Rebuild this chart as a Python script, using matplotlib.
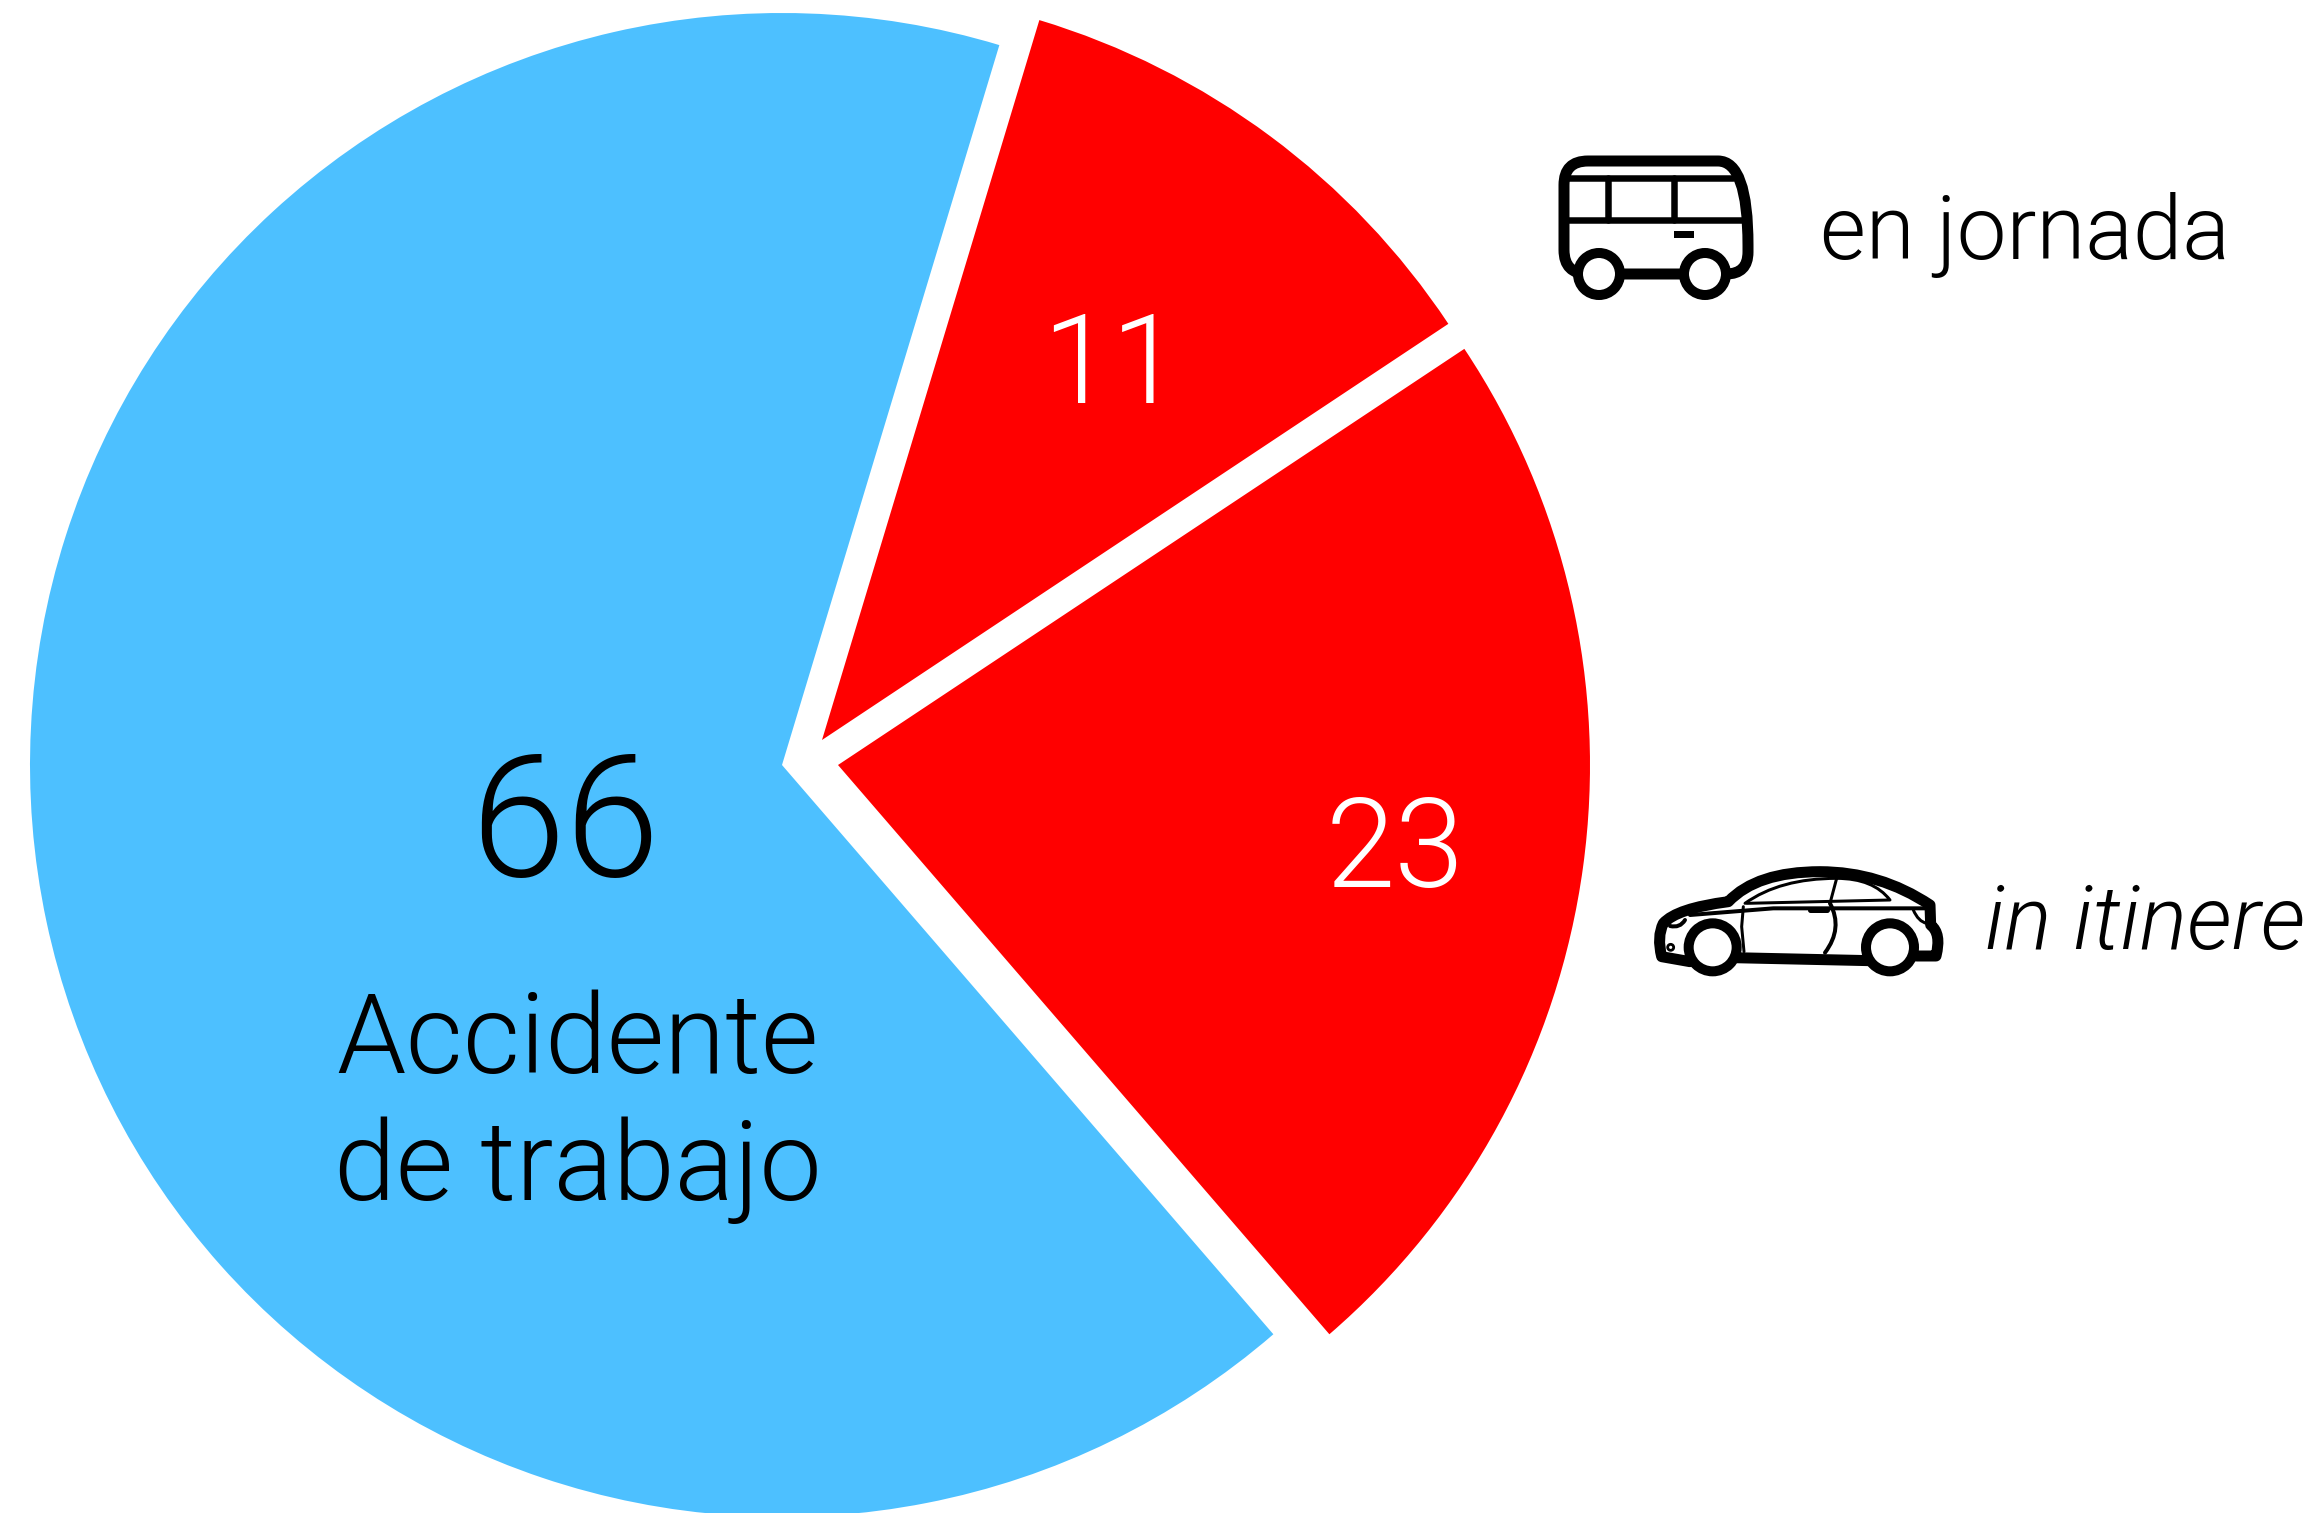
import matplotlib
matplotlib.use('Agg')
import matplotlib.pyplot as plt
from matplotlib.patches import Circle, PathPatch, Rectangle
from matplotlib.path import Path

# Values
categories = ['Accidente de trabajo', 'in itinere', 'en jornada']
values = [66, 23, 11]
colors = ['#4DC0FF', '#FF0000', '#FF0000']

WIDTH, HEIGHT = 2321, 1513
plt.rcParams['font.family'] = ['Roboto', 'Liberation Sans', 'DejaVu Sans']
WEIGHT = 300

fig = plt.figure(figsize=(WIDTH / 100, HEIGHT / 100), dpi=100)
ax = fig.add_axes([0, 0, 1, 1])

radius = 752
center = (782, HEIGHT - 765)

wedges, _ = ax.pie(values, colors=colors, radius=radius, center=center,
                   startangle=73.2, counterclock=True, frame=True)
# the two red slices are pulled out by hand
wedges[1].set_center((838, HEIGHT - 765))
wedges[2].set_center((822, HEIGHT - 740))

ax.set_xlim(0, WIDTH)
ax.set_ylim(0, HEIGHT)
ax.axis('off')


def to_px(x, y):
    return x, HEIGHT - y


def draw_line(pts, lw):
    # pts: list of (x, y) or bezier pairs, image pixel coordinates
    verts = [to_px(*pts[0])]
    codes = [Path.MOVETO]
    for p in pts[1:]:
        if len(p) == 4:
            verts += [to_px(p[0], p[1]), to_px(p[2], p[3])]
            codes += [Path.CURVE3, Path.CURVE3]
        else:
            verts.append(to_px(*p))
            codes.append(Path.LINETO)
    ax.add_patch(PathPatch(Path(verts, codes), fill=False, ec='black', lw=lw * 0.72,
                           capstyle='round', joinstyle='round', zorder=5))


def draw_wheel(x, y, r, lw):
    ax.add_patch(Circle(to_px(x, y), r, fc='white', ec='black', lw=lw * 0.72, zorder=6))


def draw_bus():
    draw_line([(1588, 274), (1564, 274, 1564, 250), (1564, 185), (1564, 161, 1588, 161),
               (1718, 161), (1748, 161, 1748, 245), (1748, 252), (1748, 274, 1726, 274),
               (1600, 274)], 11)
    draw_line([(1564, 178), (1733, 178)], 6.5)
    draw_line([(1564, 220), (1746, 220)], 6.5)
    draw_line([(1608, 178), (1608, 220)], 6.5)
    draw_line([(1674, 178), (1674, 220)], 6.5)
    ax.add_patch(Rectangle(to_px(1674, 238), 20, 7, fc='black', ec='none', zorder=5))
    draw_wheel(1599, 274, 21, 10)
    draw_wheel(1705, 274, 21, 10)


def car_px(x, y):
    return 1640 + x / 3, 840 + y / 3


def draw_car():
    def cp(*pts):
        out = []
        for p in pts:
            if len(p) == 4:
                out.append(car_px(p[0], p[1]) + car_px(p[2], p[3]))
            else:
                out.append(car_px(*p))
        return out
    # body outline
    draw_line(cp((150, 365), (65, 350), (50, 290, 70, 250), (110, 205, 265, 185),
                 (350, 95, 540, 95), (720, 95, 870, 195), (872, 255), (905, 280, 888, 348),
                 (830, 348)), 11)
    draw_line(cp((280, 353), (690, 362)), 11)
    # roof and windows
    draw_line(cp((315, 190), (420, 115, 590, 115)), 3)
    draw_line(cp((590, 115), (700, 115, 750, 180), (320, 190)), 3)
    draw_line(cp((150, 225), (400, 205), (860, 205)), 4)
    # doors
    draw_line(cp((590, 115), (570, 190)), 3)
    draw_line(cp((570, 190), (610, 265, 555, 338)), 4)
    draw_line(cp((310, 200), (305, 260), (312, 335)), 3)
    # handle, lights
    draw_line(cp((510, 209), (560, 209)), 5)
    draw_line(cp((90, 258), (120, 265, 135, 240)), 4)
    draw_line(cp((820, 210), (835, 245, 860, 250)), 3)
    ax.add_patch(Circle(to_px(*car_px(92, 322)), 3, fc='white', ec='black', lw=2, zorder=6))
    draw_wheel(*car_px(218, 322), 24, 10)
    draw_wheel(*car_px(750, 322), 24, 10)


draw_bus()
draw_car()

# Labels
ax.text(565, HEIGHT - 830, str(values[0]), fontsize=123, fontweight=WEIGHT, ha='center', va='center', color='black')
ax.text(578, HEIGHT - 1042, 'Accidente', fontsize=80, fontweight=WEIGHT, ha='center', va='center', color='black')
ax.text(578, HEIGHT - 1170, 'de trabajo', fontsize=80, fontweight=WEIGHT, ha='center', va='center', color='black')
ax.text(1111, HEIGHT - 369, str(values[2]), fontsize=90, fontweight=WEIGHT, ha='center', va='center', color='white')
ax.text(1395, HEIGHT - 853, str(values[1]), fontsize=90, fontweight=WEIGHT, ha='center', va='center', color='white')
ax.text(1820, HEIGHT - 235, categories[2], fontsize=64, fontweight=WEIGHT, ha='left', va='center', color='black')
ax.text(1985, HEIGHT - 925, categories[1], fontsize=64, fontweight=WEIGHT, style='italic', ha='left', va='center', color='black')

fig.savefig('out.png', dpi=100)
